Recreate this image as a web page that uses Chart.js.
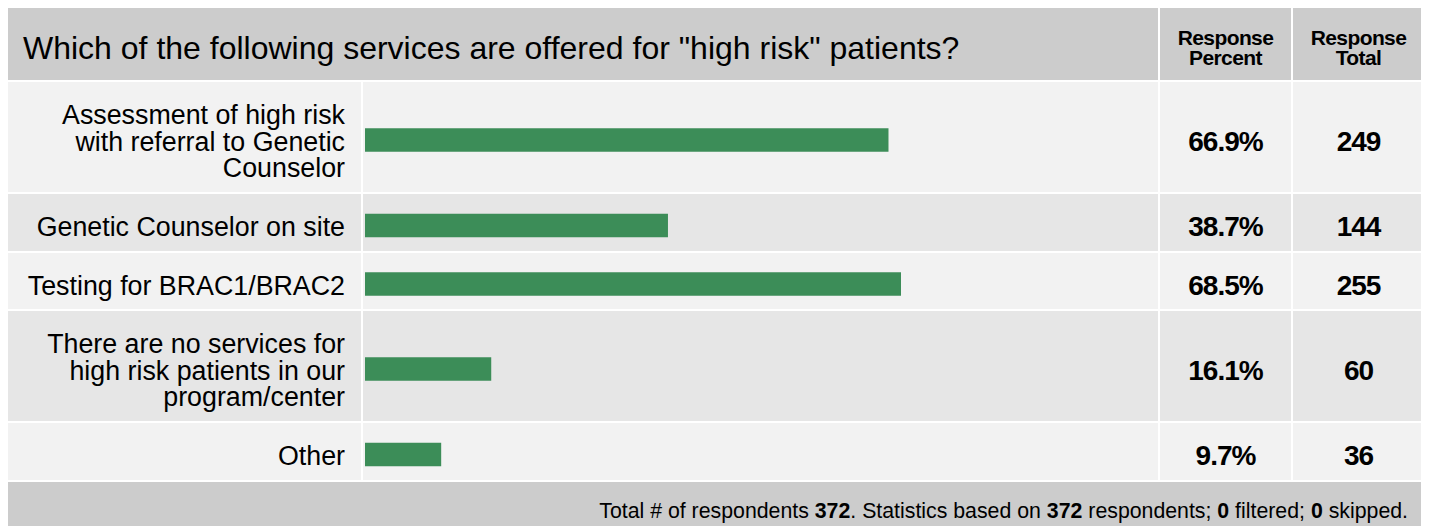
<!DOCTYPE html>
<html>
<head>
<meta charset="utf-8">
<script src="https://cdn.jsdelivr.net/npm/chart.js@4"></script>
<style>
    body { margin: 8px; background: #fff; font-family: 'Liberation Sans', Arial, sans-serif; color: #000; }
    .grid {
        display: grid;
        width: 1416px;
        grid-template-columns: 353px 795px 131px 131px;
        grid-template-rows: 72px 110px 57px 56px 110px 57px 58px;
        gap: 2px;
        background: #fff;
    }
    .head { background: #cccccc; display: flex; align-items: center; }
    .title { grid-column: 1 / 3; font-size: 32px; padding-left: 15px; padding-top: 9px; white-space: nowrap; }
    .colhead { justify-content: center; text-align: center; font-weight: bold; font-size: 21px; line-height: 19.5px; letter-spacing: -0.6px; padding-top: 7px; }
    .cell { display: flex; align-items: center; }
    .odd { background: #f2f2f2; }
    .even { background: #e6e6e6; }
    .label { justify-content: flex-end; text-align: right; font-size: 26.8px; line-height: 26.5px; padding-right: 16px; padding-top: 10px; white-space: nowrap; }
    .num { justify-content: center; font-weight: bold; font-size: 28px; letter-spacing: -1px; padding-top: 9px; }
    .bar { position: relative; }
    .bar canvas { position: absolute; left: 0; top: 0; }
    .foot { grid-column: 1 / 5; background: #cccccc; display: flex; align-items: center; justify-content: flex-end; padding-right: 16px; font-size: 21.3px; white-space: nowrap; }
</style>
</head>
<body>
<div class="grid" id="grid">
    <div class="head title">Which of the following services are offered for "high risk" patients?</div>
    <div class="head colhead">Response<br>Percent</div>
    <div class="head colhead">Response<br>Total</div>
</div>
<script>
const categories = [
    ['Assessment of high risk', 'with referral to Genetic', 'Counselor'],
    ['Genetic Counselor on site'],
    ['Testing for BRAC1/BRAC2'],
    ['There are no services for', 'high risk patients in our', 'program/center'],
    ['Other']
];
const percents = [66.9, 38.7, 68.5, 16.1, 9.7];
const totals = [249, 144, 255, 60, 36];
const rowHeights = [110, 57, 56, 110, 57];
const respondents = 372;
const filtered = 0;
const skipped = 0;

const barColor = '#3c8d58';

document.addEventListener('DOMContentLoaded', function () {
    const grid = document.getElementById('grid');

    categories.forEach(function (lines, i) {
        const shade = i % 2 === 0 ? 'odd' : 'even';

        const lab = document.createElement('div');
        lab.className = 'cell label ' + shade;
        lab.innerHTML = lines.join('<br>');
        grid.appendChild(lab);

        const barCell = document.createElement('div');
        barCell.className = 'cell bar ' + shade;
        const cv = document.createElement('canvas');
        barCell.appendChild(cv);
        grid.appendChild(barCell);

        const pct = document.createElement('div');
        pct.className = 'cell num ' + shade;
        pct.textContent = percents[i].toFixed(1) + '%';
        grid.appendChild(pct);

        const tot = document.createElement('div');
        tot.className = 'cell num ' + shade;
        tot.textContent = totals[i];
        grid.appendChild(tot);

        cv.width = 795;
        cv.height = rowHeights[i];
        cv.style.width = '795px';
        cv.style.height = rowHeights[i] + 'px';

        new Chart(cv, {
            type: 'bar',
            data: {
                labels: [lines.join(' ')],
                datasets: [{
                    data: [percents[i]],
                    backgroundColor: barColor,
                    borderWidth: 0,
                    barThickness: 23
                }]
            },
            options: {
                indexAxis: 'y',
                responsive: false,
                animation: false,
                layout: { padding: { left: 2, right: 11, top: 6, bottom: 0 } },
                plugins: { legend: { display: false }, tooltip: { enabled: false } },
                scales: {
                    x: { min: 0, max: 100, display: false },
                    y: { display: false }
                }
            }
        });
    });

    const foot = document.createElement('div');
    foot.className = 'foot';
    foot.innerHTML = 'Total # of respondents&nbsp;<b>' + respondents + '</b>. Statistics based on&nbsp;<b>' + respondents +
        '</b>&nbsp;respondents;&nbsp;<b>' + filtered + '</b>&nbsp;filtered;&nbsp;<b>' + skipped + '</b>&nbsp;skipped.';
    grid.appendChild(foot);
});
</script>
</body>
</html>
